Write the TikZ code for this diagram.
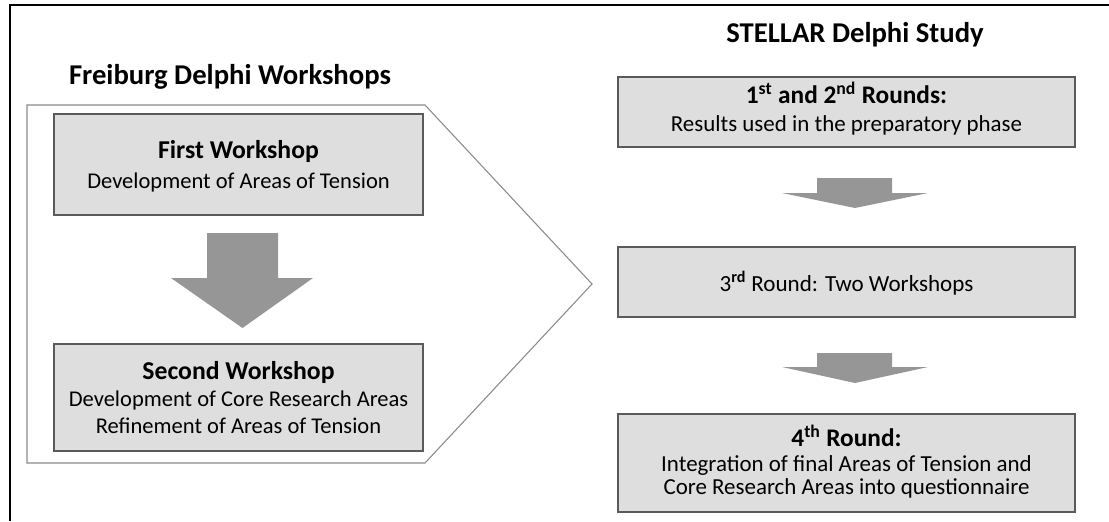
\documentclass[tikz,border=0pt]{standalone}
\usepackage{fontspec}
\setmainfont{Carlito}
\definecolor{boxfill}{HTML}{DEDEDE}
\definecolor{boxline}{HTML}{5A5A5A}
\definecolor{arrfill}{HTML}{969696}
\definecolor{penline}{HTML}{8A8A8A}
\newcommand{\fsz}[1]{\fontsize{#1}{#1}\selectfont}
\tikzset{
  stagebox/.style={draw=boxline, line width=1.1pt, fill=boxfill, inner sep=0pt},
  blockarrow/.style={fill=arrfill, draw=none},
  txt/.style={inner sep=0pt, anchor=base},
}
\begin{document}
\begin{tikzpicture}[x=0.75pt, y=-0.75pt]
\useasboundingbox (0,0) rectangle (1109,521);
% outer frame (cropped)
\draw[black, line width=0.9pt] (1109,5) -- (10,5) -- (10,521);
% headings
\node[txt, font=\fsz{21.5}\bfseries] (lefttitle) at (230,84) {Freiburg Delphi Workshops};
\node[txt, font=\fsz{21.5}\bfseries] (righttitle) at (855,42) {STELLAR Delphi Study};
% pentagon
\draw[penline, line width=0.8pt] (27,105) -- (425,105) -- (592,284) -- (425,463) -- (27,463) -- cycle;
% left boxes
\node[stagebox, minimum width=369*0.75pt, minimum height=101*0.75pt] (first) at (238.5,164.5) {};
\node[txt, font=\fsz{19.3}\bfseries] (firstA) at (238.5,158) {First Workshop};
\node[txt, font=\fsz{16.9}] (firstB) at (238.5,188) {Development of Areas of Tension};
\node[stagebox, minimum width=369*0.75pt, minimum height=107*0.75pt] (second) at (238.5,397.5) {};
\node[txt, font=\fsz{19.3}\bfseries] (secondA) at (238.5,379) {Second Workshop};
\node[txt, font=\fsz{16.9}] (secondB) at (238.5,406) {Development of Core Research Areas};
\node[txt, font=\fsz{16.9}] (secondC) at (238.5,433) {Refinement of Areas of Tension};
% big arrow
\fill[blockarrow] (207,233) -- (278,233) -- (278,278) -- (313,278) -- (242.5,328) -- (171,278) -- (207,278) -- cycle;
% right boxes
\node[stagebox, minimum width=457*0.75pt, minimum height=70*0.75pt] (r1) at (846.5,112) {};
\node[txt, font=\fsz{19}\bfseries] (r1A) at (846.5,103) {1\textsuperscript{st} and 2\textsuperscript{nd} Rounds:};
\node[txt, font=\fsz{17.2}] (r1B) at (846.5,131) {Results used in the preparatory phase};
\node[stagebox, minimum width=457*0.75pt, minimum height=70*0.75pt] (r2) at (846.5,282) {};
\node[txt, font=\fsz{17.3}] (r2A) at (846.5,291) {3\textsuperscript{\bfseries rd} Round: Two Workshops};
\node[stagebox, minimum width=457*0.75pt, minimum height=98*0.75pt] (r3) at (846.5,463) {};
\node[txt, font=\fsz{19}\bfseries] (r3A) at (846.5,446) {4\textsuperscript{th} Round:};
\node[txt, font=\fsz{17.2}] (r3B) at (846.5,471) {Integration of final Areas of Tension and};
\node[txt, font=\fsz{17.2}] (r3C) at (846.5,494) {Core Research Areas into questionnaire};
% small arrows
\fill[blockarrow] (817,178) -- (892,178) -- (892,193) -- (928,193) -- (855,208) -- (782,193) -- (817,193) -- cycle;
\fill[blockarrow] (817,353) -- (892,353) -- (892,367) -- (928,367) -- (855,383) -- (782,367) -- (817,367) -- cycle;
\end{tikzpicture}
\end{document}
